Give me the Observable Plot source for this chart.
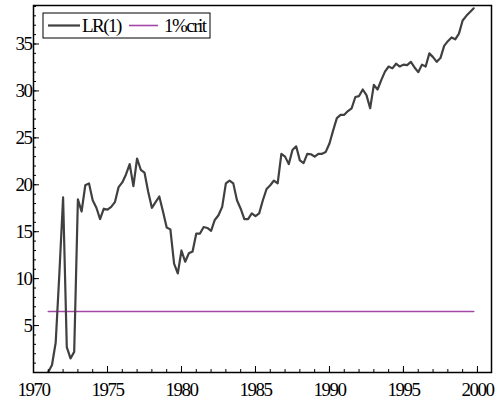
<!DOCTYPE html>
<html>
<head>
<meta charset="utf-8">
<script src="https://cdn.jsdelivr.net/npm/d3@7"></script>
<script src="https://cdn.jsdelivr.net/npm/@observablehq/plot@0.6"></script>
<style>
  html, body { margin: 0; padding: 0; background: #fff; }
  svg text { letter-spacing: -1.5px; }
</style>
</head>
<body>
<div id="chart"></div>
<script>
// Quarterly LR(1) statistic, 1971Q1 .. 1999Q4
const startYear = 1971;
const lrValues = [
  0.06, 0.8, 3.2, 10.6,
  18.65, 2.7, 1.5, 2.2,
  18.45, 17.15, 19.95, 20.15,
  18.35, 17.55, 16.35, 17.45,
  17.35, 17.65, 18.15, 19.75,
  20.25, 21.1, 22.2, 19.85,
  22.8, 21.6, 21.3, 19.25,
  17.55, 18.15, 18.75, 17.15,
  15.45, 15.25, 11.6, 10.55,
  13.0, 11.8, 12.7, 12.9,
  14.8, 14.8, 15.5, 15.4,
  15.1, 16.25, 16.75, 17.65,
  20.15, 20.45, 20.15, 18.35,
  17.45, 16.35, 16.35, 16.95,
  16.65, 16.95, 18.35, 19.55,
  19.95, 20.45, 20.15, 23.3,
  23.0, 22.2, 23.7, 24.1,
  22.6, 22.3, 23.3, 23.25,
  23.0, 23.3, 23.3, 23.5,
  24.4, 25.8, 27.1, 27.45,
  27.45, 27.85, 28.15, 29.35,
  29.45, 30.15, 29.55, 28.15,
  30.65, 30.15, 31.15, 32.05,
  32.6, 32.4, 32.9, 32.6,
  32.8, 32.75, 33.1, 32.5,
  32.0, 32.8, 32.6, 34.0,
  33.6, 33.1, 33.5, 34.8,
  35.3, 35.7, 35.5, 36.1,
  37.5, 38.0, 38.4, 38.8
];
const critValue = 6.5; // 1% critical value line
const seriesNames = ["LR(1)", "1%crit"];
const xMajorTicks = [1970, 1975, 1980, 1985, 1990, 1995, 2000];
const xMinorTicks = d3.range(1970, 2001);
const yMajorTicks = [5, 10, 15, 20, 25, 30, 35];
const yMinorTicks = d3.range(0, 40);

const rows = lrValues.map((v, i) => ({t: startYear + i / 4, lr: v, crit: critValue}));

const colors = {lr: "#404040", crit: "#a448a8"};

const chart = Plot.plot({
  width: 498,
  height: 404,
  marginLeft: 33,
  marginRight: 7,
  marginTop: 5,
  marginBottom: 32,
  style: {fontFamily: "'Liberation Serif', 'Times New Roman', serif", fontSize: "19px", color: "#000", background: "#fff"},
  x: {domain: [1970, 2000.95], label: null},
  y: {domain: [0, 39.1], label: null},
  marks: [
    Plot.line(rows, {x: "t", y: "crit", stroke: colors.crit, strokeWidth: 1.6}),
    Plot.line(rows, {x: "t", y: "lr", stroke: colors.lr, strokeWidth: 2.2}),
    Plot.axisX(xMinorTicks, {tickSize: -3, fill: "none", strokeWidth: 1}),
    Plot.axisX(xMajorTicks, {tickSize: -6, tickPadding: 16, tickFormat: d => String(d), strokeWidth: 1}),
    Plot.axisY(yMinorTicks, {tickSize: -3, fill: "none", strokeWidth: 1}),
    Plot.axisY(yMajorTicks, {tickSize: -6, tickPadding: 8, tickFormat: d => String(d), strokeWidth: 1}),
    Plot.frame({stroke: "#000", strokeWidth: 1.5})
  ]
});

document.getElementById("chart").appendChild(chart);

// Legend box (top-left, inside the frame)
const svg = d3.select(chart);
const lg = svg.append("g").attr("class", "legend").attr("text-anchor", "start");
lg.append("rect").attr("x", 43).attr("y", 13).attr("width", 167).attr("height", 25)
  .attr("fill", "#fff").attr("stroke", "#000").attr("stroke-width", 1);
lg.append("line").attr("x1", 48).attr("x2", 80).attr("y1", 25.5).attr("y2", 25.5)
  .attr("stroke", colors.lr).attr("stroke-width", 2.2);
lg.append("text").attr("x", 82).attr("y", 32).attr("text-anchor", "start").text(seriesNames[0])
  .attr("fill", "#000");
lg.append("line").attr("x1", 129).attr("x2", 158).attr("y1", 25.5).attr("y2", 25.5)
  .attr("stroke", colors.crit).attr("stroke-width", 1.6);
lg.append("text").attr("x", 164).attr("y", 32).attr("text-anchor", "start").text(seriesNames[1])
  .attr("fill", "#000");
</script>
</body>
</html>
